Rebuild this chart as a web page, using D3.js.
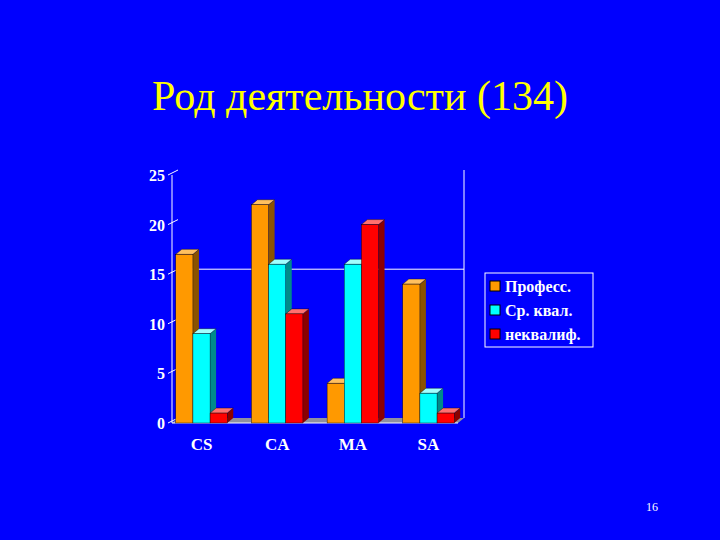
<!DOCTYPE html>
<html>
<head>
  <script src="https://cdn.jsdelivr.net/npm/d3@7"></script>
  <style>body{margin:0;background:#0000fe;}</style>
</head>
<body>
  <svg width="720" height="540" id="mainsvg"></svg>
  <script>
    const categories = ['CS', 'CA', 'MA', 'SA'];
    const seriesNames = ['Професс.', 'Ср. квал.', 'неквалиф.'];
    const profess = [17, 22, 4, 14];
    const srKval = [9, 16, 16, 3];
    const nekval = [1, 11, 20, 1];
    const yTicks = [0, 5, 10, 15, 20, 25];

    const series = [profess, srKval, nekval];
    const fronts = ['#ff9900', '#00ffff', '#ff0000'];
    const sides = ['#8a5200', '#008a8a', '#8a0000'];
    const tops = ['#ffc060', '#a0ffff', '#ff7070'];

    const svg = d3.select('#mainsvg');
    svg.append('rect').attr('width', 720).attr('height', 540).attr('fill', '#0000fe');

    svg.append('text').attr('x', 360).attr('y', 110).attr('text-anchor', 'middle')
      .attr('font-family', 'Liberation Serif').attr('font-size', 42).attr('fill', '#ffff00')
      .text('Род деятельности (134)');

    const dx = 6, dy = 5;
    const x = d3.scaleBand().domain(categories).range([172, 458]).paddingInner(0.32).paddingOuter(0.05);
    const xs = d3.scaleBand().domain(d3.range(3)).range([0, x.bandwidth()]);
    const y = d3.scaleLinear().domain([0, 25]).range([423, 175]);

    const g = svg.append('g');
    // back wall
    g.append('line').attr('x1', 464).attr('x2', 464).attr('y1', y(25) - dy).attr('y2', y(0) - dy).attr('stroke', '#fff');
    g.append('line').attr('x1', 172 + dx).attr('x2', 464).attr('y1', y(15) - dy).attr('y2', y(15) - dy).attr('stroke', '#fff');
    // floor
    g.append('path').attr('d', `M172,${y(0)} L${172 + dx},${y(0) - dy} L464,${y(0) - dy} L458,${y(0)} Z`)
      .attr('fill', '#9090a0');
    // y axis
    g.append('line').attr('x1', 172).attr('x2', 172).attr('y1', y(25)).attr('y2', y(0)).attr('stroke', '#fff');
    g.append('line').attr('x1', 172).attr('x2', 458).attr('y1', y(0)).attr('y2', y(0)).attr('stroke', '#fff');
    yTicks.forEach(t => {
      g.append('line').attr('x1', 168).attr('x2', 178).attr('y1', y(t)).attr('y2', y(t) - 5).attr('stroke', '#fff');
      g.append('text').attr('x', 165).attr('y', y(t) + 6).attr('text-anchor', 'end')
        .attr('font-family', 'Liberation Serif').attr('font-weight', 'bold').attr('font-size', 16)
        .attr('fill', '#fff').text(t);
    });
    categories.forEach(c => {
      g.append('text').attr('x', x(c) + x.bandwidth() / 2).attr('y', 450).attr('text-anchor', 'middle')
        .attr('font-family', 'Liberation Serif').attr('font-weight', 'bold').attr('font-size', 17)
        .attr('fill', '#fff').text(c);
    });

    // bars
    categories.forEach((c, ci) => {
      series.forEach((s, si) => {
        const x0 = x(c) + xs(si), w = xs.bandwidth(), yt = y(s[ci]), yb = y(0);
        g.append('path').attr('d', `M${x0 + w},${yt} L${x0 + w + dx},${yt - dy} L${x0 + w + dx},${yb - dy} L${x0 + w},${yb} Z`)
          .attr('fill', sides[si]);
        g.append('path').attr('d', `M${x0},${yt} L${x0 + dx},${yt - dy} L${x0 + w + dx},${yt - dy} L${x0 + w},${yt} Z`)
          .attr('fill', tops[si]).attr('stroke', '#000').attr('stroke-width', 0.4);
        g.append('rect').attr('x', x0).attr('y', yt).attr('width', w).attr('height', yb - yt)
          .attr('fill', fronts[si]).attr('stroke', '#000').attr('stroke-width', 0.4);
      });
    });

    // legend
    const lg = svg.append('g').attr('transform', 'translate(485,273)');
    lg.append('rect').attr('width', 108).attr('height', 74).attr('fill', '#0000fe').attr('stroke', '#fff');
    seriesNames.forEach((n, i) => {
      lg.append('rect').attr('x', 5).attr('y', 8 + i * 24).attr('width', 10).attr('height', 10)
        .attr('fill', fronts[i]).attr('stroke', '#000');
      lg.append('text').attr('x', 20).attr('y', 19 + i * 24).attr('font-family', 'Liberation Serif')
        .attr('font-weight', 'bold').attr('font-size', 16).attr('fill', '#fff').text(n);
    });

    svg.append('text').attr('x', 652).attr('y', 511).attr('text-anchor', 'middle')
      .attr('font-family', 'Liberation Serif').attr('font-size', 12).attr('fill', '#fff').text('16');
  </script>
</body>
</html>
